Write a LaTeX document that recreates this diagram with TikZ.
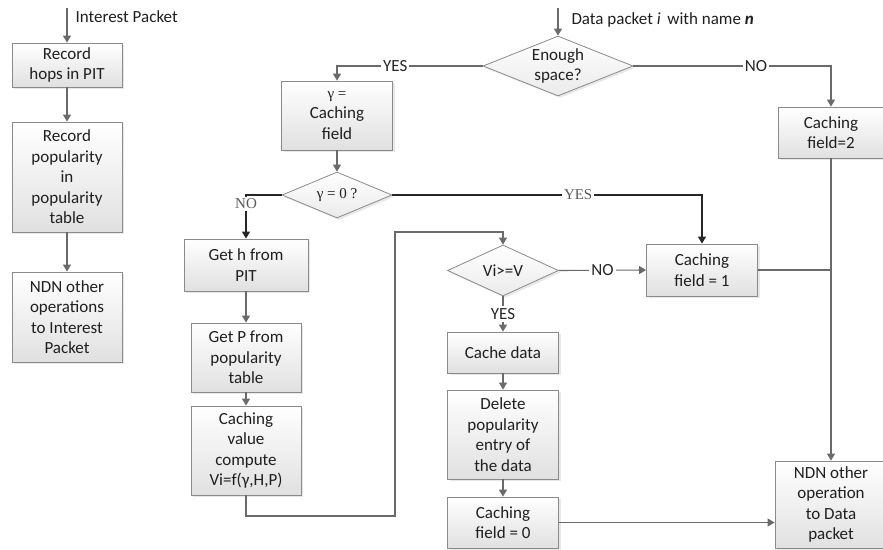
\documentclass[tikz,border=0pt]{standalone}
\usepackage{fontspec}
\setmainfont{Carlito}
\newfontfamily\timesgr{Liberation Serif}
\usetikzlibrary{shapes.geometric,arrows.meta,shadows}
\definecolor{linegray}{HTML}{6A6A6A}
\definecolor{boxgray}{HTML}{8A8A8A}
\begin{document}
\begin{tikzpicture}[x=1pt,y=-1pt,font=\fontsize{17}{20.5}\selectfont,
  procbox/.style={draw=boxgray,line width=0.8pt,top color=white,bottom color=black!12,
    drop shadow={opacity=0.18,shadow xshift=2pt,shadow yshift=-2pt},
    align=center,inner sep=1pt,text=black!88},
  decide/.style={procbox,diamond,aspect=2.4,inner sep=0pt,bottom color=black!8},
  flow/.style={draw=linegray,line width=1.1pt,-{Triangle[length=7pt,width=8pt]}},
  blackflow/.style={flow,draw=black!85},
  tag/.style={fill=white,inner sep=2pt,text=black!85},
  serifto/.style={tag,font=\timesgr\fontsize{15}{17}\selectfont,text=black!65}]
\useasboundingbox (0,0) rectangle (883,549);
% interest packet side
\coordinate (intin) at (67,8);
\node[anchor=west,text=black!88] (intlab) at (72,17) {Interest Packet};
\node[procbox,minimum width=110,minimum height=44] (rec) at (67,65) {Record\\hops in PIT};
\node[procbox,minimum width=110,minimum height=110] (pop) at (67,177) {Record\\popularity\\in\\popularity\\table};
\node[procbox,minimum width=110,minimum height=90] (ndnint) at (67,317) {NDN other\\operations\\to Interest\\Packet};
\draw[flow] (intin) -- (rec.north);
\draw[flow] (rec) -- (pop);
\draw[flow] (pop) -- (ndnint);
% data packet side
\coordinate (datain) at (558,8);
\node[anchor=west,text=black!88] (datalab) at (568,20) {Data packet \textit{i}\, with name \textbf{\textit{n}}};
\node[decide,minimum width=150,minimum height=60] (enough) at (558,66) {Enough\\space?};
\node[procbox,minimum width=111,minimum height=69] (gam) at (337,115.5) {{\timesgr\fontsize{15}{17}\selectfont γ =}\\Caching\\field};
\node[procbox,minimum width=106,minimum height=51] (cf2) at (831,132.5) {Caching\\field=2};
\node[decide,minimum width=110,minimum height=46] (gz) at (337,195) {\timesgr\fontsize{15}{17}\selectfont γ = 0 ?};
\node[procbox,minimum width=124,minimum height=52] (geth) at (246,265) {Get h from\\PIT};
\node[procbox,minimum width=110,minimum height=69] (getp) at (246,357.5) {Get P from\\popularity\\table};
\node[procbox,minimum width=110,minimum height=89] (comp) at (246,450.5) {Caching\\value\\compute\\Vi=f(γ,H,P)};
\node[decide,minimum width=111,minimum height=51] (vi) at (503,270.5) {Vi>=V};
\node[procbox,minimum width=111,minimum height=52] (cf1) at (702,270) {Caching\\field = 1};
\node[procbox,minimum width=111,minimum height=41] (cache) at (503,352.5) {Cache data};
\node[procbox,minimum width=111,minimum height=89] (del) at (503,434.5) {Delete\\popularity\\entry of\\the data};
\node[procbox,minimum width=111,minimum height=51] (cf0) at (503,522.5) {Caching\\field = 0};
\node[procbox,minimum width=112,minimum height=87] (ndndata) at (831,504.5) {NDN other\\operation\\to Data\\packet};
\coordinate (loopa) at (395,516);
\coordinate (loopb) at (395,232);
\draw[flow] (datain) -- (enough.north);
\draw[flow] (enough.west) -| (gam.north) node[tag,pos=0.3] {YES};
\draw[flow] (enough.east) -| (cf2.north) node[tag,pos=0.31] {NO};
\draw[flow] (gam) -- (gz);
\draw[blackflow] (gz.west) -| (geth.north) node[serifto,pos=0.6] {NO};
\draw[blackflow] (gz.east) -| (cf1.north) node[serifto,pos=0.3] {YES};
\draw[flow] (geth) -- (getp);
\draw[flow] (getp) -- (comp);
\draw[flow] (comp.south) |- (loopa) -- (loopb) -| (vi.north);
\draw[flow] (vi.east) -- (cf1.west) node[tag,midway] {NO};
\draw[flow] (vi.south) -- (cache.north) node[tag,midway] {YES};
\draw[flow] (cache) -- (del);
\draw[flow] (del) -- (cf0);
\draw[flow] (cf0.east) -- (cf0.east -| ndndata.west);
\draw[flow] (cf2.south) -- (ndndata.north);
\draw[draw=linegray,line width=1.1pt] (cf1.east) -- (cf1.east -| cf2.south);
\end{tikzpicture}
\end{document}
